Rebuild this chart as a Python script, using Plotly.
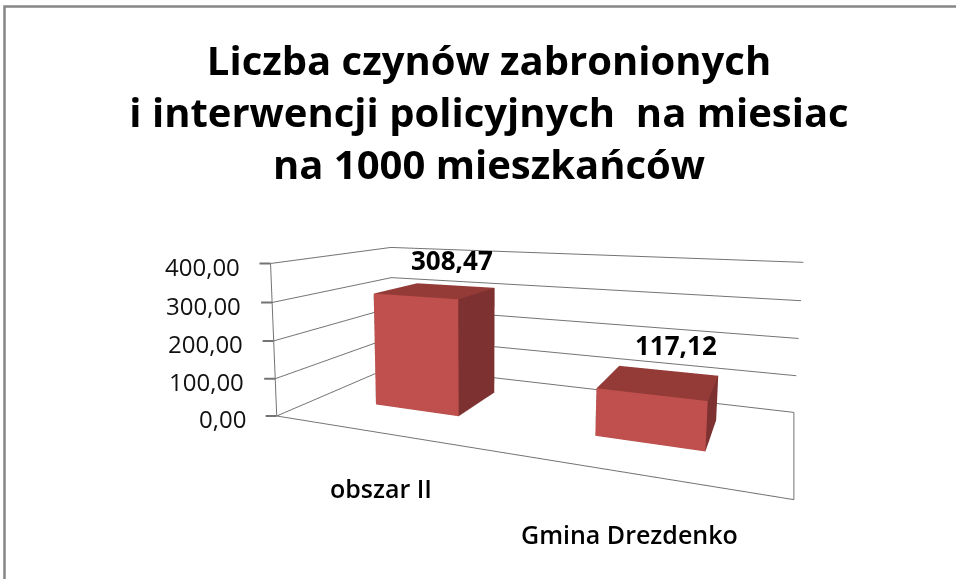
import plotly.graph_objects as go

categories = ["obszar II", "Gmina Drezdenko"]
values = [308.47, 117.12]
value_labels = ["308,47", "117,12"]
z_tickvals = [0, 100, 200, 300, 400]
z_ticktext = ["0,00", "100,00", "200,00", "300,00", "400,00"]
title_lines = ["Liczba czynów zabronionych",
               "i interwencji policyjnych\u00a0 na miesiac",
               "na 1000 mieszkańców"]

W, H = 956, 579
XR = [-0.5, 1.5]
YR = [0.0, 1.0]
ZR = [0.0, 400.0]

# bar footprint (category units / depth units) and camera of the perspective view
BAR_W, BAR_Y0, BAR_Y1 = 0.41, 0.329, 0.739
ASPECT = dict(x=1.5412, y=0.7316, z=0.5)
EYE = dict(x=0.7303, y=-2.1094, z=0.4689)
CENTER = dict(x=-0.1932, y=-0.0469, z=0.1593)

FRONT, TOP, SIDE = "#C0504D", "#943B38", "#7D3231"
GRID = "#747474"
FONT = "Open Sans"
EPS = 1e-4

# label offsets in pixels (style only)
CAT_SHIFT = [(3, -37), (-2, -42)]
VAL_SHIFT = [(-3, 6), (9, 6)]

fig = go.Figure()
for i, v in enumerate(values):
    x0, x1 = i - BAR_W / 2, i + BAR_W / 2
    xs = [x0, x1, x1, x0, x0, x1, x1, x0]
    ys = [BAR_Y0, BAR_Y0, BAR_Y1, BAR_Y1, BAR_Y0, BAR_Y0, BAR_Y1, BAR_Y1]
    zs = [0, 0, 0, 0, v, v, v, v]
    I = [0, 0, 3, 3, 0, 0, 1, 1, 0, 0, 4, 4]
    J = [1, 5, 2, 6, 3, 7, 2, 6, 1, 2, 5, 6]
    K = [5, 4, 6, 7, 7, 4, 6, 5, 2, 3, 6, 7]
    fc = [FRONT, FRONT, SIDE, SIDE, SIDE, SIDE, SIDE, SIDE, SIDE, SIDE, TOP, TOP]
    fig.add_trace(go.Mesh3d(x=xs, y=ys, z=zs, i=I, j=J, k=K, facecolor=fc, flatshading=True,
                            lighting=dict(ambient=1, diffuse=0, specular=0, roughness=1, fresnel=0),
                            hoverinfo="skip", showscale=False, name=categories[i]))

# value axis line (front-left edge) and floor front / right edges
xl, xr_ = XR[0] + EPS, XR[1] - EPS
yf = YR[0] + EPS
fig.add_trace(go.Scatter3d(x=[xl, xl, xr_, xr_], y=[yf, yf, yf, YR[1] - EPS],
                           z=[ZR[1], ZR[0] + EPS, ZR[0] + EPS, ZR[0] + EPS],
                           mode="lines", line=dict(color=GRID, width=2), hoverinfo="skip", showlegend=False))

annots = []
for t, tt in zip(z_tickvals, z_ticktext):
    # tick mark
    annots.append(dict(x=XR[0], y=YR[0], z=t, text=" ", showarrow=True, arrowhead=0, arrowwidth=2,
                       arrowcolor=GRID, ax=-13, ay=0, standoff=0, font=dict(size=4)))
    # tick label
    annots.append(dict(x=XR[0], y=YR[0], z=t, text=tt, showarrow=False, xanchor="right", yanchor="middle",
                       xshift=-29, yshift=-3, font=dict(family=FONT, size=24, color="#111111")))
for i, cat in enumerate(categories):
    annots.append(dict(x=i, y=YR[0], z=ZR[0], text=cat, showarrow=False, xanchor="center", yanchor="top",
                       xshift=CAT_SHIFT[i][0], yshift=CAT_SHIFT[i][1],
                       font=dict(family=FONT, size=25, color="#000000", weight=600)))
    annots.append(dict(x=i, y=BAR_Y1, z=values[i], text=value_labels[i], showarrow=False, xanchor="center",
                       yanchor="bottom", xshift=VAL_SHIFT[i][0], yshift=VAL_SHIFT[i][1],
                       font=dict(family=FONT, size=26, color="#000000", weight=700)))

axis_common = dict(showbackground=False, showspikes=False, zeroline=False, title=dict(text=""))
fig.update_layout(
    width=W, height=H,
    margin=dict(l=0, r=0, t=0, b=0),
    paper_bgcolor="white",
    separators=", ",
    showlegend=False,
    title=dict(text="<br>".join(title_lines), x=489 / W, xanchor="center", y=1 - 75 / H, yanchor="top",
               yref="container", font=dict(family=FONT, size=40, color="#000000", weight=700)),
    scene=dict(
        domain=dict(x=[0, 1], y=[0, 1]),
        bgcolor="white",
        aspectmode="manual",
        aspectratio=ASPECT,
        camera=dict(eye=EYE, center=CENTER, up=dict(x=0, y=0, z=1), projection=dict(type="perspective")),
        xaxis=dict(range=XR, showgrid=False, showticklabels=False, showline=False, ticks="", **axis_common),
        yaxis=dict(range=YR, showgrid=False, showticklabels=False, showline=False, ticks="", **axis_common),
        zaxis=dict(range=ZR, tickvals=z_tickvals, showgrid=True, gridcolor=GRID, gridwidth=2,
                   showticklabels=False, showline=False, ticks="", **axis_common),
        annotations=annots,
    ),
    shapes=[dict(type="rect", xref="paper", yref="paper", x0=4.5 / W, x1=1.05, y0=-0.05, y1=1 - 6.5 / H,
                 line=dict(color="#868686", width=2.5), fillcolor="rgba(0,0,0,0)")],
)
fig.write_html("out.html", config={"displayModeBar": False},
               post_script="document.body.style.margin='0';document.body.style.overflow='hidden';")
